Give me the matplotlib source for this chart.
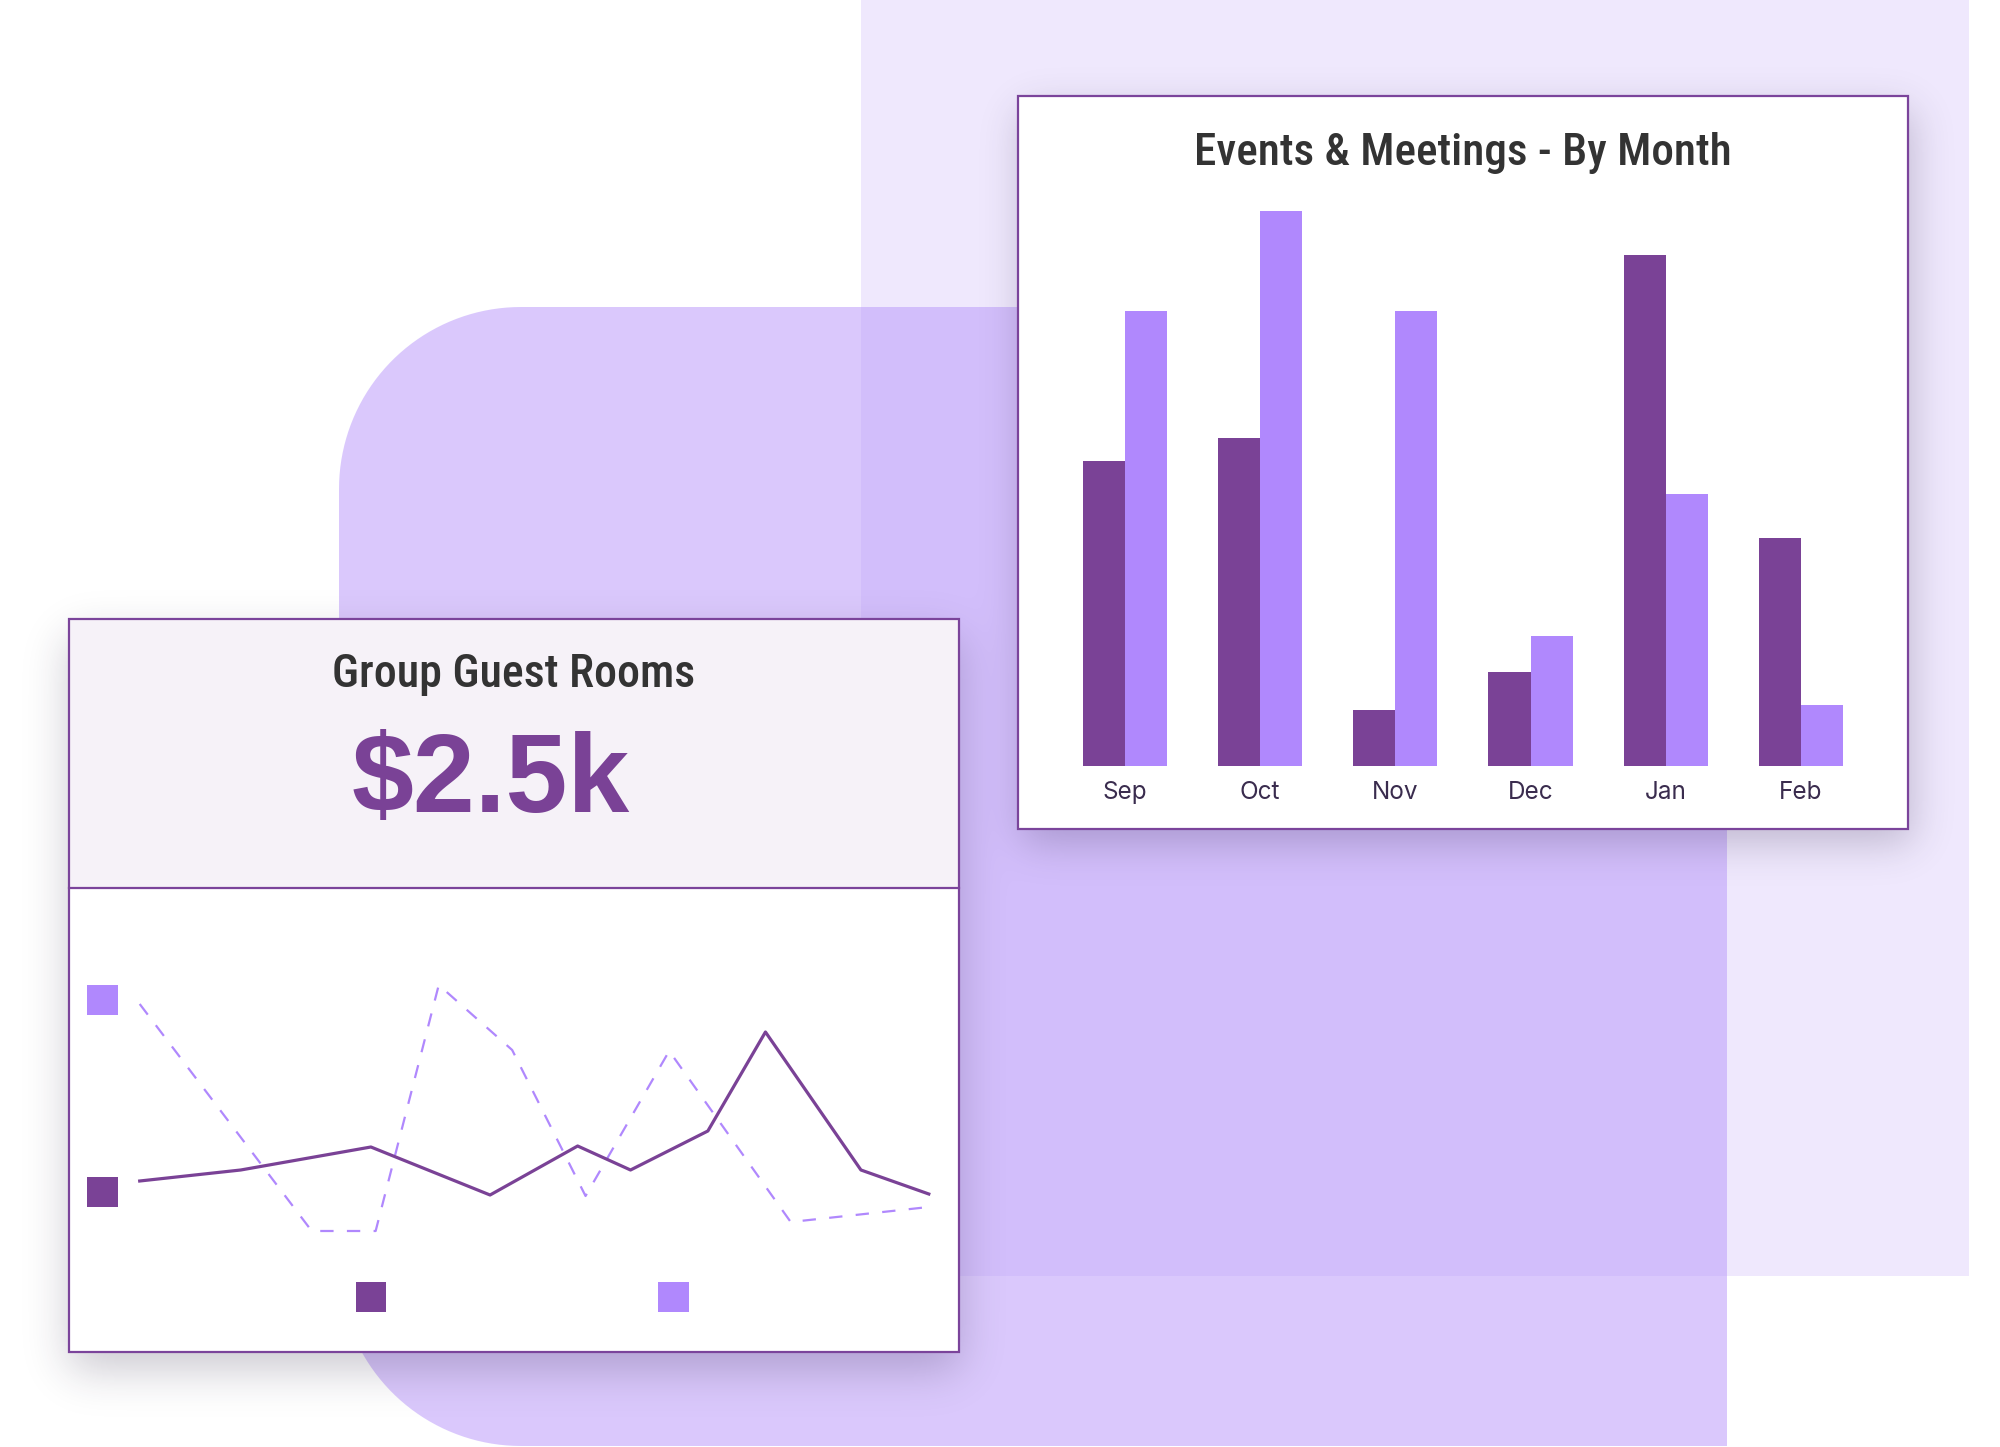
import math
import numpy as np
import matplotlib
matplotlib.use('Agg')
import matplotlib.pyplot as plt
from matplotlib import font_manager
from matplotlib.patches import Rectangle, Polygon

# bar chart data
months = ['Sep', 'Oct', 'Nov', 'Dec', 'Jan', 'Feb']
events = [5.5, 5.9, 1.0, 1.7, 9.2, 4.1]
meetings = [8.2, 10.0, 8.2, 2.35, 4.9, 1.1]

# line chart data (group guest rooms)
rooms_x = [0, 12.8, 29.3, 44.4, 55.5, 62.2, 72.0, 79.3, 91.4, 100]
rooms_y = [6.9, 8.0, 10.3, 5.5, 10.4, 8.0, 11.9, 21.8, 8.0, 5.6]
prev_x = [0, 21.8, 29.9, 37.9, 47.2, 56.5, 67.1, 82.5, 100]
prev_y = [24.6, 1.9, 1.9, 26.5, 20.0, 5.4, 19.9, 2.8, 4.3]

bar_title = 'Events & Meetings - By Month'
card_title = 'Group Guest Rooms'
kpi = '$2.5k'

DARK = '#7a4296'
LIGHT = '#b088fd'
BORDER = '#7b449b'

names = {f.name for f in font_manager.fontManager.ttflist}

def pick(*cands):
    for c in cands:
        if c in names:
            return c
    return 'DejaVu Sans'

narrow = pick('Liberation Sans Narrow', 'Roboto Condensed', 'DejaVu Sans')
stretch = 'condensed' if narrow == 'DejaVu Sans' else 'normal'
label_font = pick('Inter', 'Lato', 'DejaVu Sans')
kpi_font = pick('Liberation Sans', 'Roboto', 'DejaVu Sans')

W, H = 2000, 1447
fig = plt.figure(figsize=(W / 100, H / 100), dpi=100)
fig.patch.set_facecolor('white')

def frac(x0, y0, x1, y1):
    return [x0 / W, 1 - y1 / H, (x1 - x0) / W, (y1 - y0) / H]

bg = fig.add_axes([0, 0, 1, 1])
bg.axis('off')

# background shapes
bg.add_patch(Rectangle((861, 0), 1969 - 861, 1276, fc='#efe8fd', ec='none', zorder=1))

r = 182
sx0, sy0, sx1, sy1 = 339, 307, 1727, 1446
t = np.linspace(0, np.pi / 2, 40)
pts = []
pts += list(zip(sx0 + r - r * np.cos(t), sy0 + r - r * np.sin(t)))
pts += [(sx1, sy0), (sx1, sy1)]
pts += list(zip(sx0 + r - r * np.sin(t), sy1 - r + r * np.cos(t)))
bg.add_patch(Polygon(pts, closed=True, fc=(187 / 255, 155 / 255, 251 / 255), alpha=0.54,
                     ec='none', zorder=1.5))

# soft card shadows
erf = np.vectorize(math.erf)

def soft(v, a, b, s):
    return 0.5 * (erf((v - a) / (s * math.sqrt(2))) - erf((v - b) / (s * math.sqrt(2))))

xs = np.arange(W) + 0.5
ys = np.arange(H) + 0.5
alpha = 0.24 * np.outer(soft(ys, 110, 843, 20), soft(xs, 1022, 1912, 20))
alpha += 0.24 * np.outer(soft(ys, 637, 1370, 22), soft(xs, 69, 959, 22))
img = np.zeros((H, W, 4))
img[..., 0] = 0.16
img[..., 1] = 0.12
img[..., 2] = 0.25
img[..., 3] = np.clip(alpha, 0, 1)
bg.imshow(img, extent=(0, W, H, 0), zorder=2, interpolation='bilinear', aspect='auto')

# cards
bg.add_patch(Rectangle((1018, 96), 890, 733, fc='white', ec=BORDER, lw=1.6, zorder=3))
bg.add_patch(Rectangle((69, 619), 890, 269, fc='#f6f2f8', ec='none', zorder=3))
bg.add_patch(Rectangle((69, 888), 890, 464, fc='white', ec='none', zorder=3))
bg.add_patch(Rectangle((69, 619), 890, 733, fill=False, ec=BORDER, lw=1.6, zorder=3.5))
bg.plot([69, 959], [888, 888], color=BORDER, lw=1.6, zorder=3.5)

# legend keys of the line card
bg.add_patch(Rectangle((87, 985), 31, 30, fc=LIGHT, ec='none', zorder=4))
bg.add_patch(Rectangle((87, 1177), 31, 30, fc=DARK, ec='none', zorder=4))
bg.add_patch(Rectangle((356, 1282), 30, 30, fc=DARK, ec='none', zorder=4))
bg.add_patch(Rectangle((658, 1282), 31, 30, fc=LIGHT, ec='none', zorder=4))

bg.text(1463, 165, bar_title, ha='center', va='baseline', fontsize=32.5, family=narrow,
        fontstretch=stretch, fontweight='medium', color='#333333', zorder=5)
bg.text(514, 687, card_title, ha='center', va='baseline', fontsize=33, family=narrow,
        fontstretch=stretch, fontweight='medium', color='#333333', zorder=5)
bg.text(491, 812, kpi, ha='center', va='baseline', fontsize=80, family=kpi_font,
        fontweight='bold', color=DARK, parse_math=False, zorder=5)

bg.set_xlim(0, W)
bg.set_ylim(H, 0)

# bar chart
axb = fig.add_axes(frac(1018, 96, 1908, 766))
axb.set_facecolor('none')
x = np.arange(len(months))
w = 0.311
axb.bar(x - w / 2, events, w, color=DARK)
axb.bar(x + w / 2, meetings, w, color=LIGHT)
axb.set_xlim(-0.791, 5.792)
axb.set_ylim(0, 12.07)
axb.set_xticks(x, months)
axb.set_yticks([])
axb.tick_params(axis='x', length=0, pad=10.5, labelsize=17.5, labelcolor='#3a2c4e')
for lab in axb.get_xticklabels():
    lab.set_fontfamily(label_font)
for s in axb.spines.values():
    s.set_visible(False)

# line chart
axl = fig.add_axes(frac(139.7, 960, 928.8, 1250))
axl.set_facecolor('none')
axl.plot(prev_x, prev_y, color=LIGHT, lw=1.6, ls=(0, (6, 6)), clip_on=False)
axl.plot(rooms_x, rooms_y, color=DARK, lw=2.3, clip_on=False)
axl.set_xlim(0, 100)
axl.set_ylim(0, 29)
axl.axis('off')

fig.savefig('out.png', dpi=100)
